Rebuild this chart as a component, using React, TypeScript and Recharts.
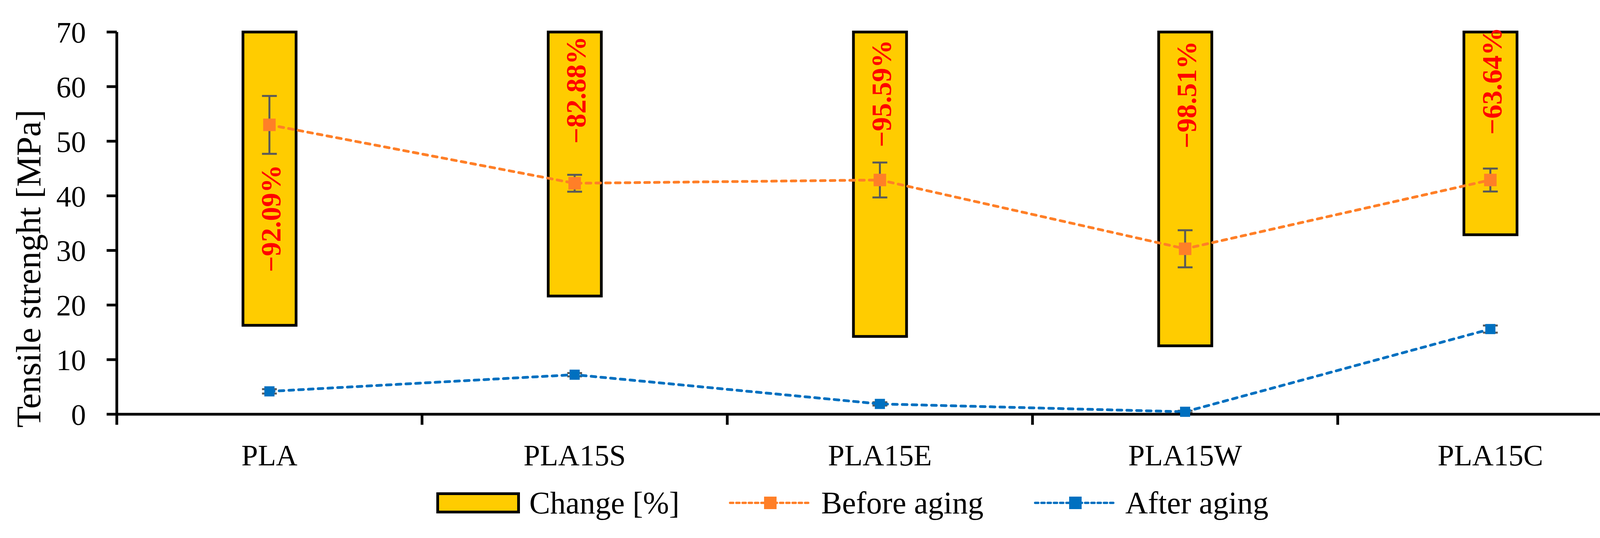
import React from "react"
import { ComposedChart, Bar, Line, XAxis, YAxis, ErrorBar, LabelList } from "recharts"

const categories = ["PLA", "PLA15S", "PLA15E", "PLA15W", "PLA15C"]
const changePct = [-92.09, -82.88, -95.59, -98.51, -63.64]
const beforeAging = [53.0, 42.3, 42.9, 30.3, 42.9]
const beforeAgingErr = [5.3, 1.55, 3.2, 3.4, 2.1]
const afterAging = [4.19, 7.24, 1.89, 0.45, 15.6]
const afterAgingErr = [0.4, 0.3, 0.3, 0.2, 0.65]
const yTicks = [0, 10, 20, 30, 40, 50, 60, 70]

const data = categories.map((name, i) => ({
  name,
  change: changePct[i],
  before: beforeAging[i],
  beforeErr: beforeAgingErr[i],
  after: afterAging[i],
  afterErr: afterAgingErr[i],
}))

const FONT = "'Liberation Serif', 'Times New Roman', serif"
const ORANGE = "#FF7F27"
const BLUE = "#0070C0"
const YELLOW = "#FFCC00"

// how far each red label sits below the top of its bar
const labelDrop = [340, 11, 20, 23, -12]

function squareDot(color: string, size: number) {
  return (props: any) => {
    const { cx, cy, index } = props
    if (cx == null || cy == null) return <g key={`d-${index}`} />
    return <rect key={`d-${index}`} x={cx - size / 2} y={cy - size / 2} width={size} height={size} fill={color} />
  }
}

function CategoryTick(props: any) {
  const { x, y, payload, index, visibleTicksCount } = props
  const half = payload?.offset ?? 0
  return (
    <g>
      <line x1={x - half} x2={x - half} y1={y} y2={y + 27} stroke="#000" strokeWidth={7} />
      {index === visibleTicksCount - 1 && (
        <line x1={x + half} x2={x + half} y1={y} y2={y + 27} stroke="#000" strokeWidth={7} />
      )}
      <text x={x} y={y + 131} textAnchor="middle" fontSize={76} fontFamily={FONT} fill="#000">
        {payload.value}
      </text>
    </g>
  )
}

function ChangeLabel(props: any) {
  const { x, y, width, height, value, index } = props
  const top = Math.min(y, y + height) + labelDrop[index]
  const cx = x + width / 2 + 4
  const text = "\u2212" + Math.abs(value).toFixed(2) + "%"
  return (
    <text
      x={cx}
      y={top}
      transform={`rotate(-90 ${cx} ${top})`}
      textAnchor="end"
      dominantBaseline="central"
      fontSize={72}
      fontWeight="bold"
      fontFamily={FONT}
      fill="#FF0000"
    >
      {text}
    </text>
  )
}

function YTitle(props: any) {
  const { viewBox } = props
  const x = viewBox.x + 103
  const y = viewBox.y + 606
  return (
    <text x={x} y={y} transform={`rotate(-90 ${x} ${y})`} textAnchor="middle" fontSize={89} fontFamily={FONT} fill="#000">
      Tensile strenght [MPa]
    </text>
  )
}

function LineIcon({ color }: { color: string }) {
  return (
    <svg width={215} height={40}>
      <line x1={4} x2={211} y1={20} y2={20} stroke={color} strokeWidth={6} strokeDasharray="8 8" strokeLinecap="round" />
      <rect x={91} y={4} width={32} height={32} fill={color} />
    </svg>
  )
}

function ChartLegend() {
  const text: React.CSSProperties = { fontSize: 80, lineHeight: "80px", fontFamily: FONT, color: "#000", whiteSpace: "nowrap" }
  return (
    <div style={{ position: "absolute", left: 1117, top: 1248, height: 80, display: "flex", alignItems: "center" }}>
      <div style={{ width: 200, height: 40, background: YELLOW, border: "7px solid #000" }} />
      <span style={{ ...text, marginLeft: 24 }}>Change [%]</span>
      <div style={{ marginLeft: 126, display: "flex" }}>
        <LineIcon color={ORANGE} />
      </div>
      <span style={{ ...text, marginLeft: 22 }}>Before aging</span>
      <div style={{ marginLeft: 128, display: "flex" }}>
        <LineIcon color={BLUE} />
      </div>
      <span style={{ ...text, marginLeft: 20 }}>After aging</span>
    </div>
  )
}

export default function App() {
  return (
    <div style={{ position: "absolute", left: 0, top: 0, width: 4264, height: 1378, background: "#fff" }}>
      <ComposedChart width={4264} height={1378} data={data} margin={{ top: 82, right: 58, bottom: 167, left: 0 }}>
        <XAxis
          dataKey="name"
          height={150}
          interval={0}
          tickLine={false}
          tickSize={0}
          tickMargin={0}
          axisLine={{ stroke: "#000", strokeWidth: 7 }}
          tick={(p: any) => <CategoryTick {...p} />}
        />
        <YAxis
          yAxisId="left"
          width={299}
          domain={[0, 70]}
          ticks={yTicks}
          interval={0}
          tickSize={26}
          tickMargin={53}
          tickLine={{ stroke: "#000", strokeWidth: 7 }}
          axisLine={{ stroke: "#000", strokeWidth: 7 }}
          tick={{ fill: "#000", fontSize: 76, fontFamily: FONT }}
          label={{ content: (p: any) => <YTitle {...p} /> }}
        />
        <YAxis yAxisId="pct" orientation="right" domain={[-120, 0]} hide />
        <Bar
          yAxisId="pct"
          dataKey="change"
          name="Change [%]"
          fill={YELLOW}
          stroke="#000"
          strokeWidth={7}
          barSize={136}
          isAnimationActive={false}
        >
          <LabelList dataKey="change" content={(p: any) => <ChangeLabel {...p} />} />
        </Bar>
        <Line
          yAxisId="left"
          type="linear"
          dataKey="before"
          name="Before aging"
          stroke={ORANGE}
          strokeWidth={7}
          strokeDasharray="12 13"
          strokeLinecap="round"
          dot={squareDot(ORANGE, 32)}
          activeDot={false}
          isAnimationActive={false}
        >
          <ErrorBar dataKey="beforeErr" width={19} strokeWidth={5} stroke="#595959" direction="y" />
        </Line>
        <Line
          yAxisId="left"
          type="linear"
          dataKey="after"
          name="After aging"
          stroke={BLUE}
          strokeWidth={7}
          strokeDasharray="12 13"
          strokeLinecap="round"
          dot={squareDot(BLUE, 26)}
          activeDot={false}
          isAnimationActive={false}
        >
          <ErrorBar dataKey="afterErr" width={19} strokeWidth={5} stroke="#595959" direction="y" />
        </Line>
      </ComposedChart>
      <ChartLegend />
    </div>
  )
}
